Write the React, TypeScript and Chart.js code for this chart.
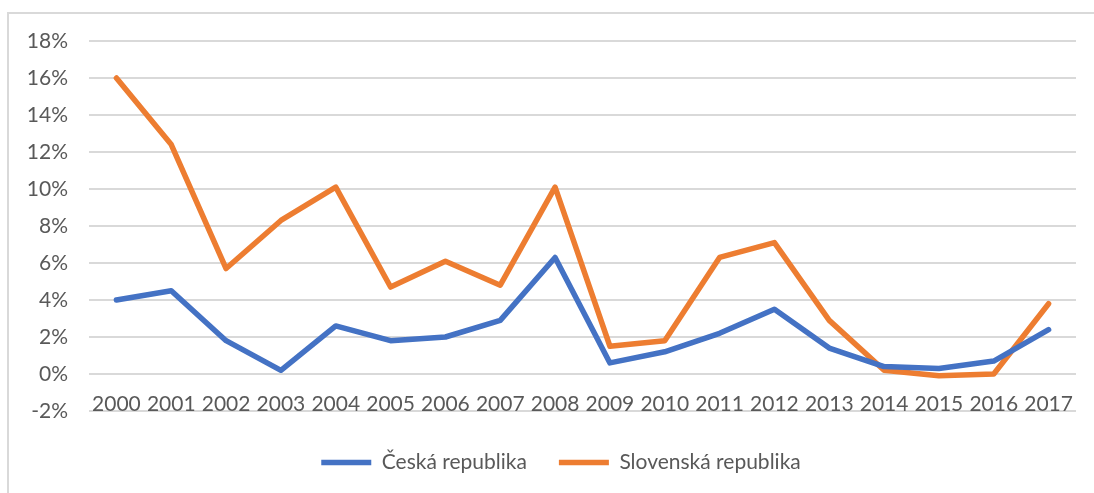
import React, { useEffect, useRef } from "react";
import { Chart, registerables } from "chart.js";

Chart.register(...registerables);

const years: string[] = [
  "2000", "2001", "2002", "2003", "2004", "2005", "2006", "2007", "2008",
  "2009", "2010", "2011", "2012", "2013", "2014", "2015", "2016", "2017",
];

const ceskaRepublika: number[] = [
  4.0, 4.5, 1.8, 0.2, 2.6, 1.8, 2.0, 2.9, 6.3, 0.6, 1.2, 2.2, 3.5, 1.4, 0.4, 0.3, 0.7, 2.4,
];

const slovenskaRepublika: number[] = [
  16.0, 12.4, 5.7, 8.3, 10.1, 4.7, 6.1, 4.8, 10.1, 1.5, 1.8, 6.3, 7.1, 2.9, 0.2, -0.1, 0.0, 3.8,
];

const seriesNames: string[] = ["Česká republika", "Slovenská republika"];

const yMin = -2;
const yMax = 18;
const yStep = 2;

const legendShift = {
  id: "legendShift",
  afterLayout(chart: any) {
    if (chart.legend) {
      chart.legend.left += 12;
      chart.legend.right += 12;
    }
  },
};

export default function App() {
  const canvasRef = useRef<HTMLCanvasElement | null>(null);

  useEffect(() => {
    if (!canvasRef.current) return;
    const textColor = "#595959";
    const font = { family: "Lato", size: 21 };
    const chart = new Chart(canvasRef.current, {
      type: "line",
      data: {
        labels: years,
        datasets: [
          {
            label: seriesNames[0],
            data: ceskaRepublika,
            borderColor: "#4472C4",
            backgroundColor: "#4472C4",
            borderWidth: 5.5,
            pointRadius: 0,
            tension: 0,
            borderCapStyle: "round",
            borderJoinStyle: "round",
          },
          {
            label: seriesNames[1],
            data: slovenskaRepublika,
            borderColor: "#ED7D31",
            backgroundColor: "#ED7D31",
            borderWidth: 5.5,
            pointRadius: 0,
            tension: 0,
            borderCapStyle: "round",
            borderJoinStyle: "round",
          },
        ],
      },
      options: {
        animation: false,
        responsive: false,
        maintainAspectRatio: false,
        layout: { padding: { top: 41, right: 18, bottom: 10, left: 22 } },
        plugins: {
          tooltip: { enabled: false },
          legend: {
            position: "bottom",
            labels: {
              color: textColor,
              font,
              usePointStyle: true,
              pointStyle: "line",
              pointStyleWidth: 50,
              boxHeight: 5,
              padding: 32,
            },
          },
        },
        scales: {
          x: {
            offset: true,
            grid: { display: false, drawTicks: false },
            border: { display: false },
            ticks: {
              color: textColor,
              font,
              mirror: true,
              padding: -6,
              maxRotation: 0,
              minRotation: 0,
              autoSkip: false,
            },
            afterFit: (scale: any) => {
              scale.height = 9;
            },
          },
          y: {
            min: yMin,
            max: yMax,
            grid: { color: "#D9D9D9", lineWidth: 2, drawTicks: false },
            border: { display: false },
            ticks: {
              stepSize: yStep,
              color: textColor,
              font,
              padding: 21,
              callback: (v: any) => `${v}%`,
            },
            afterFit: (scale: any) => {
              scale.width = 67;
            },
          },
        },
      },
      plugins: [legendShift],
    });
    return () => chart.destroy();
  }, []);

  return (
    <div style={{ position: "fixed", left: 0, top: 0, width: 1094, height: 493, background: "#fff" }}>
      <div
        style={{
          position: "absolute",
          left: 7,
          top: 12,
          right: 0,
          bottom: 0,
          borderTop: "2px solid #D9D9D9",
          borderLeft: "2px solid #D9D9D9",
        }}
      />
      <canvas
        ref={canvasRef}
        width={1094}
        height={493}
        style={{ position: "absolute", left: 0, top: 0, width: 1094, height: 493 }}
      />
    </div>
  );
}
